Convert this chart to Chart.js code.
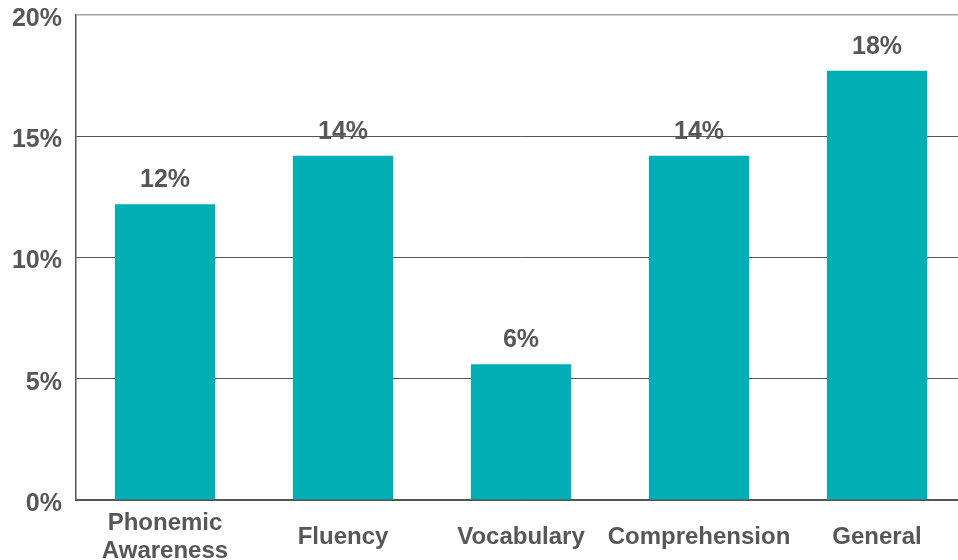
<!DOCTYPE html>
<html>
<head>
<meta charset="utf-8">
<script src="https://cdn.jsdelivr.net/npm/chart.js@4/dist/chart.umd.min.js"></script>
<style>
  html, body { margin: 0; padding: 0; background: #fff; overflow: hidden; }
  #wrap { width: 966px; height: 560px; }
</style>
</head>
<body>
<div id="wrap"><canvas id="myChart"></canvas></div>
<script>
// reading skill areas and their shares
const categories = [["Phonemic", "Awareness"], "Fluency", "Vocabulary", "Comprehension", "General"];
const shares = [12.2, 14.2, 5.6, 14.2, 17.7];
const tickLabels = ["0%", "5%", "10%", "15%", "20%"];

const textColor = "#575757";
const fontFamily = "'Liberation Sans', Arial, sans-serif";

// value labels above each bar
const barLabels = {
  id: "barLabels",
  afterDatasetsDraw(chart) {
    const ctx = chart.ctx;
    const meta = chart.getDatasetMeta(0);
    ctx.save();
    ctx.fillStyle = textColor;
    ctx.font = "bold 25px " + fontFamily;
    ctx.textAlign = "center";
    ctx.textBaseline = "alphabetic";
    meta.data.forEach((bar, i) => {
      ctx.fillText(Math.round(shares[i]) + "%", bar.x, bar.y - 17);
    });
    ctx.restore();
  },
};

const ctx = document.getElementById("myChart").getContext("2d");
const myChart = new Chart(ctx, {
  type: "bar",
  data: {
    labels: categories,
    datasets: [
      {
        data: shares,
        backgroundColor: "#00aeb3",
        borderWidth: 0,
        barPercentage: 0.563,
        categoryPercentage: 1,
      },
    ],
  },
  options: {
    responsive: true,
    maintainAspectRatio: false,
    animation: false,
    layout: { padding: { left: 10, top: 15, right: 0, bottom: 0 } },
    plugins: {
      legend: { display: false },
      tooltip: { enabled: false },
    },
    scales: {
      x: {
        grid: { display: false, drawTicks: false },
        border: { display: true, color: "#555", width: 1.5 },
        ticks: {
          color: textColor,
          font: { family: fontFamily, size: 24, weight: "bold", lineHeight: 1.2 },
          padding: 23,
          crossAlign: "center",
          maxRotation: 0,
          autoSkip: false,
        },
        afterFit(scale) {
          scale.height = 60;
          scale.paddingLeft = 0;
          scale.paddingRight = 0;
        },
      },
      y: {
        min: 0,
        max: 20,
        grid: {
          drawTicks: false,
          color: (c) => (c.tick && c.tick.value === 20 ? "#a6a6a6" : "#555"),
          lineWidth: (c) => (c.tick && c.tick.value === 20 ? 1.5 : 1),
        },
        border: { display: true, color: "#555", width: 1.5 },
        ticks: {
          stepSize: 5,
          color: textColor,
          padding: 14,
          labelOffset: 4,
          font: { family: fontFamily, size: 25, weight: "bold" },
          callback: (v) => tickLabels[v / 5],
        },
        afterFit(scale) {
          scale.width = 66;
          scale.paddingTop = 0;
          scale.paddingBottom = 0;
        },
      },
    },
  },
  plugins: [barLabels],
});
</script>
</body>
</html>
